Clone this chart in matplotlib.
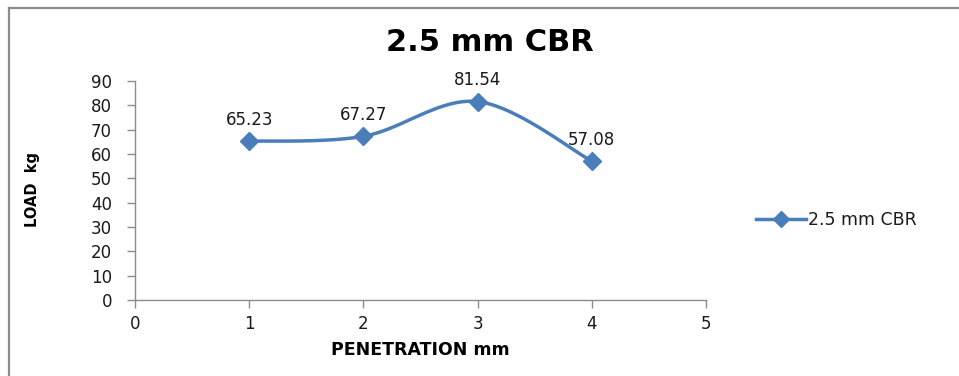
import numpy as np
import matplotlib
matplotlib.use("Agg")
import matplotlib.pyplot as plt
from matplotlib.lines import Line2D

# Datos del ensayo CBR
penetration = [1, 2, 3, 4]
load = [65.23, 67.27, 81.54, 57.08]
series_name = "2.5 mm CBR"
x_ticks = [0, 1, 2, 3, 4, 5]
y_ticks = [0, 10, 20, 30, 40, 50, 60, 70, 80, 90]

BLUE = "#4A7EBB"
AXIS_GREY = "#8C8C8C"
TXT = "#1a1a1a"


def smooth_curve(xs, ys, n=40):
    # curva suavizada tipo Catmull-Rom entre puntos consecutivos
    xs = np.asarray(xs, float)
    ys = np.asarray(ys, float)
    px = np.concatenate([[xs[0]], xs, [xs[-1]]])
    py = np.concatenate([[ys[0]], ys, [ys[-1]]])
    out_x, out_y = [], []
    for i in range(1, len(px) - 2):
        p0, p1, p2, p3 = [np.array([px[j], py[j]]) for j in (i - 1, i, i + 1, i + 2)]
        c1 = p1 + (p2 - p0) / 6.0
        c2 = p2 - (p3 - p1) / 6.0
        t = np.linspace(0, 1, n)[:, None]
        pts = ((1 - t) ** 3) * p1 + 3 * ((1 - t) ** 2) * t * c1 + 3 * (1 - t) * t ** 2 * c2 + t ** 3 * p2
        out_x.extend(pts[:, 0])
        out_y.extend(pts[:, 1])
    return np.array(out_x), np.array(out_y)


fig = plt.figure(figsize=(9.59, 3.76), dpi=100)
ax = fig.add_axes([0.1408, 0.2021, 0.7362 - 0.1408, 0.7846 - 0.2021])

sx, sy = smooth_curve(penetration, load)
ax.plot(sx, sy, color=BLUE, lw=2.5, solid_capstyle="round", zorder=2)
ax.plot(penetration, load, ls="none", marker="D", ms=9.5, color=BLUE, zorder=3)

# etiquetas de valores
for x, y in zip(penetration, load):
    ax.annotate(f"{y:.2f}", (x, y), xytext=(0, 9), textcoords="offset points",
                ha="center", va="bottom", fontsize=12, color=TXT)

ax.set_xlim(0, 5)
ax.set_ylim(0, 90)
ax.set_xticks(x_ticks)
ax.set_yticks(y_ticks)
ax.set_xticklabels([str(v) for v in x_ticks], fontsize=12, color=TXT)
ax.set_yticklabels([str(v) for v in y_ticks], fontsize=12, color=TXT)
ax.tick_params(axis="both", direction="out", length=5.5, width=1, color=AXIS_GREY)
ax.tick_params(axis="y", pad=11)
ax.tick_params(axis="x", pad=5)
for side in ("top", "right"):
    ax.spines[side].set_visible(False)
for side in ("left", "bottom"):
    ax.spines[side].set_color(AXIS_GREY)
    ax.spines[side].set_linewidth(1)

# títulos
fig.text(0.511, 0.888, "2.5 mm CBR", ha="center", va="center",
         fontsize=22, weight="bold")
fig.text(0.034, 0.495, "LOAD  kg", ha="center", va="center", rotation=90,
         fontsize=10.5, weight="bold", family=["Liberation Sans Narrow", "DejaVu Sans"])
fig.text(0.438, 0.07, "PENETRATION mm", ha="center", va="center",
         fontsize=12.5, weight="bold")

# leyenda
handle = Line2D([], [], color=BLUE, lw=2.5, marker="D", ms=8)
fig.legend([handle], [series_name], loc="center left", bbox_to_anchor=(0.772, 0.415),
           frameon=False, fontsize=12.5, handlelength=2.9, handletextpad=0.1,
           labelcolor=TXT)

# borde del gráfico
fig.add_artist(Line2D([0.0095, 0.0095], [0, 0.979], transform=fig.transFigure,
                      color="#8C8C8C", lw=1.6))
fig.add_artist(Line2D([0.0095, 1.0], [0.979, 0.979], transform=fig.transFigure,
                      color="#8C8C8C", lw=1.6))

fig.savefig("out.png", dpi=100)
